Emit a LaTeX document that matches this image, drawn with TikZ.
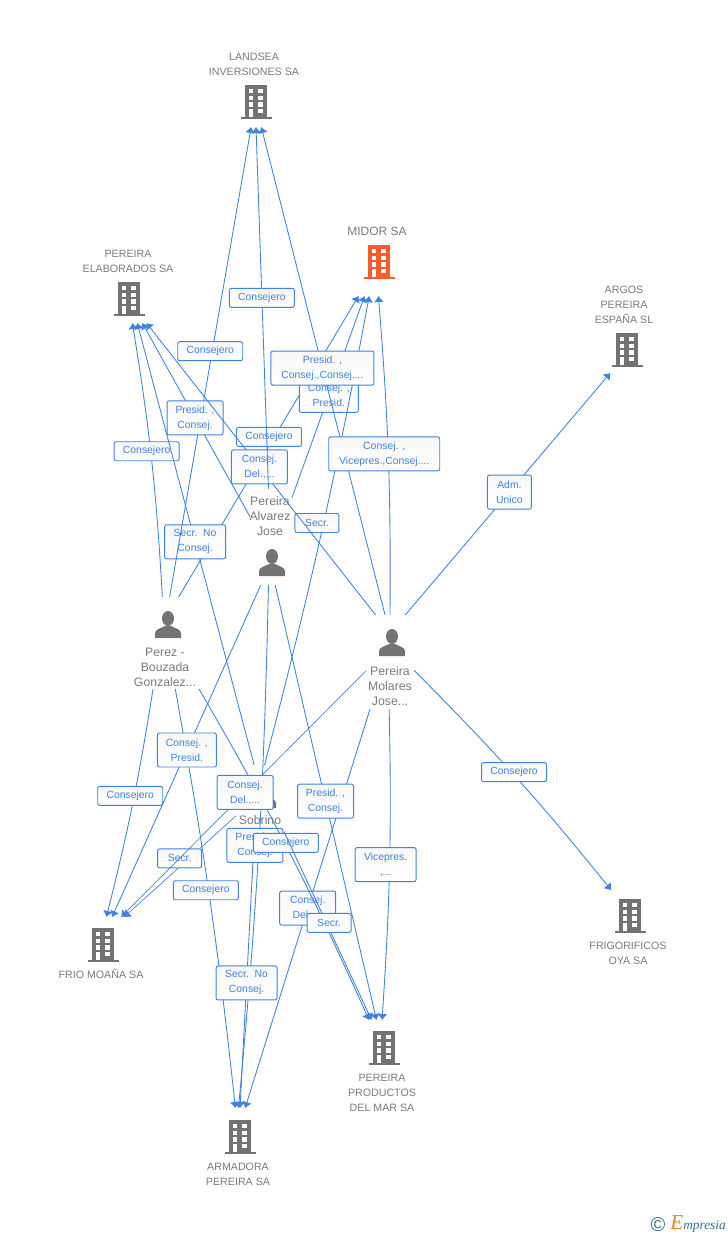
\documentclass[tikz,border=0pt]{standalone}
\usepackage{fontspec}
\setmainfont{Liberation Sans}
\newfontfamily\logofont{Liberation Serif}
\usetikzlibrary{arrows.meta}
\definecolor{linkblue}{HTML}{3F82E0}
\definecolor{towergray}{HTML}{737373}
\definecolor{textgray}{HTML}{7A7A7A}
\definecolor{midorred}{HTML}{FF5A2B}
\definecolor{logoblue}{HTML}{2F6F8F}
\definecolor{logoorange}{HTML}{F58220}
\tikzset{>={Latex[length=4.5pt,width=7.5pt]}}
\tikzset{
    link/.style={->,draw=linkblue,line width=0.65pt},
    lab/.style={draw=linkblue,line width=0.7pt,rounded corners=1.5pt,top color=black!3,bottom color=white,text=linkblue,inner sep=0pt,align=center,font=\fontsize{7.8}{11.25}\selectfont},
    labone/.style={lab,minimum width=#1,minimum height=14.25pt},
    labtwo/.style={lab,minimum width=#1,minimum height=25.5pt},
    firm/.style={inner sep=0pt,outer sep=0pt,minimum width=45pt,minimum height=#1},
    human/.style 2 args={inner sep=0pt,outer sep=0pt,minimum width=#1,minimum height=#2},
    firmtext/.style={text=textgray,align=center,inner sep=0pt,font=\fontsize{8}{11.25}\selectfont},
    humantext/.style={text=textgray,align=center,inner sep=0pt,font=\fontsize{9.2}{11.25}\selectfont},
    tower/.pic={
        \fill[pic actions] (-10.7,-17) rectangle (11,14.5);
        \fill[pic actions] (-15.5,14.5) rectangle (15.5,17);
        \foreach \ya/\yb in {-12.7/-8.7,-6/-2,0.3/4.7} {
            \fill[white] (-7,\ya) rectangle (-3,\yb);
            \fill[white] (2,\ya) rectangle (7,\yb);
        }
        \fill[white] (-7,7) rectangle (-3,14.5);
        \fill[white] (2,7) rectangle (7,11.3);
    },
    figure/.pic={
        \fill[towergray] (0,-6.5) ellipse (6 and 7.5);
        \fill[towergray] (-13,13) -- (-13,8) .. controls (-13,4) and (-6,3) .. (-3,1) -- (3,1) .. controls (6,3) and (13,4) .. (13,8) -- (13,13) -- cycle;
    }
}

\begin{document}
\begin{tikzpicture}[x=0.75pt,y=-0.75pt]
    \useasboundingbox (0,0) rectangle (728,1235);

    \node[firm=37.5pt] (landsea) at (256,102) {};
    \node[firm=51pt] (midor) at (379,262) {};
    \node[firm=36pt] (elaborados) at (129,299) {};
    \node[firm=34.5pt] (argos) at (627,350) {};
    \node[firm=42pt] (frio) at (103,945) {};
    \node[firm=39pt] (oya) at (630,916) {};
    \node[firm=42pt] (productos) at (384,1048) {};
    \node[firm=43.5pt] (armadora) at (240,1137) {};
    \pic[fill=towergray] at (landsea) {tower};
    \pic[fill=midorred] at (midor) {tower};
    \pic[fill=towergray] at (elaborados) {tower};
    \pic[fill=towergray] at (argos) {tower};
    \pic[fill=towergray] at (frio) {tower};
    \pic[fill=towergray] at (oya) {tower};
    \pic[fill=towergray] at (productos) {tower};
    \pic[fill=towergray] at (armadora) {tower};

    \node[firmtext] (landseatxt) at (254,64) {LANDSEA\\INVERSIONES SA};
    \node[firmtext,font=\fontsize{9}{11.25}\selectfont] (midortxt) at (377,231) {MIDOR SA};
    \node[firmtext] (elaboradostxt) at (128,261) {PEREIRA\\ELABORADOS SA};
    \node[firmtext] (argostxt) at (624,305) {ARGOS\\PEREIRA\\ESPAÑA SL};
    \node[firmtext] (friotxt) at (101,974) {FRIO MOAÑA SA};
    \node[firmtext] (oyatxt) at (628,953) {FRIGORIFICOS\\OYA SA};
    \node[firmtext] (productostxt) at (382,1093) {PEREIRA\\PRODUCTOS\\DEL MAR SA};
    \node[firmtext] (armadoratxt) at (238,1174) {ARMADORA\\PEREIRA SA};

    \node[human={46.5pt}{69pt}] (perez) at (168,643) {};
    \node[human={31.5pt}{72pt}] (alvarez) at (271,537) {};
    \node[human={36pt}{55.5pt}] (sobrino) at (260,802) {};
    \node[human={36pt}{70.5pt}] (molares) at (390,662) {};
    \pic at (168,625) {figure};
    \pic at (272,563) {figure};
    \pic at (263,795) {figure};
    \pic at (392,643) {figure};
    \node[humantext] (pereztxt) at (165,667) {Perez -\\Bouzada\\Gonzalez...};
    \node[humantext] (alvareztxt) at (270,516) {Pereira\\Alvarez\\Jose};
    \node[humantext] (sobrinotxt) at (260,820) {Sobrino};
    \node[humantext] (molarestxt) at (390,686) {Pereira\\Molares\\Jose...};

    \draw[link] (perez.97.4) to[bend right=3] node[labone=48.75pt,pos=.533,xshift=-3pt] (l1) {Consejero} (elaborados.-82.9);
    \draw[link] (perez.77.7) -- node[labone=48.75pt,pos=.532,xshift=-4pt] (l2) {Consejero} (midor.-121.7);
    \draw[link] (sobrino.99.2) -- node[labtwo=45.75pt,pos=.505] (l3) {Secr.\ \ No\\Consej.} (elaborados.-71.6);
    \draw[link] (perez.88.8) -- node[labone=48.75pt,pos=.523,xshift=-1.5pt] (l4) {Consejero} (landsea.-101.3);
    \draw[link] (alvarez.136.4) -- node[labtwo=42pt,pos=.51] (l5) {Presid. ,\\Consej.} (elaborados.-61.6);
    \draw[link] (alvarez.62.3) -- node[labtwo=44.25pt,pos=.507] (l6) {Consej. ,\\Presid.} (midor.-113.8);
    \draw[link] (sobrino.83.1) to[bend right=2] node[labone=33pt,pos=.52,xshift=-5pt] (l7) {Secr.} (midor.-106.4);
    \draw[link] (molares.107.7) -- node[labtwo=42pt,pos=.507] (l8) {Consej.\\Del.,...} (elaborados.-54.7);
    \draw[link] (alvarez.93.6) -- node[labone=48.75pt,pos=.528] (l9) {Consejero} (landsea.-90);
    \draw[link] (molares.96.1) -- node[labtwo=77.25pt,pos=.506] (l10) {Presid. ,\\Consej.,Consej....} (landsea.-78.7);
    \draw[link] (molares.90) to[bend right=2.5] node[labtwo=83.25pt,pos=.505,xshift=-3pt] (l11) {Consej. ,\\Vicepres.,Consej....} (midor.-91.7);
    \draw[link] (molares.72.3) -- node[labtwo=33pt,pos=.508] (l12) {Adm.\\Unico} (argos.-126.5);

    \draw[link] (perez.-108) to[bend left=2.5] node[labone=48.75pt,pos=.463,xshift=-3pt] (l13) {Consejero} (frio.83.9);
    \draw[link] (perez.-81.3) to[bend left=2] node[labone=48.75pt,pos=.48,xshift=-2pt] (l14) {Consejero} (armadora.99.8);
    \draw[link] (alvarez.-102.9) -- node[labtwo=44.25pt,pos=.497] (l15) {Consej. ,\\Presid.} (frio.72.2);
    \draw[link,line width=0.5pt] (sobrino.-150.5) -- node[labone=33pt,pos=.42,xshift=-7pt] (l16) {Secr.} (frio.53.1);
    \draw[link] (alvarez.-93.6) to[bend left=2] (armadora.93.9);
    \draw[link] (sobrino.-99.2) -- node[labtwo=45.75pt,pos=.535] (l17) {Secr.\ \ No\\Consej.} (armadora.90);
    \path (alvarez.-93.6) to[bend left=2] node[labtwo=42pt,pos=.497,xshift=-3pt] (l18) {Presid. ,\\Consej.} (armadora.93.9);
    \draw[link] (molares.-113) -- node[labtwo=42pt,pos=.499] (l19) {Consej.\\Del.,...} (armadora.80.2);
    \draw[link] (perez.-56.9) to[bend left=3] node[labone=48.75pt,pos=.47,xshift=1pt] (l20) {Consejero} (productos.118.2);
    \draw[link] (sobrino.-51.8) -- node[labone=33pt,pos=.484,xshift=2pt] (l21) {Secr.} (productos.114.9);
    \draw[link,line width=0.5pt] (molares.-160.8) -- node[labtwo=42pt,pos=.494] (l22) {Consej.\\Del.,...} (frio.57.3);
    \draw[link] (alvarez.-85.2) -- node[labtwo=42pt,pos=.497] (l23) {Presid. ,\\Consej.} (productos.105.9);
    \draw[link] (molares.-91.2) to[bend left=2.5] node[labtwo=45.75pt,pos=.5,xshift=-3pt] (l24) {Vicepres.\\,...} (productos.94.1);
    \draw[link] (molares.-19.2) to[bend left=3] node[labone=48.75pt,pos=.475,xshift=2pt] (l25) {Consejero} (oya.126.2);

    \node[text=logoblue,inner sep=0pt,font=\fontsize{15}{15}\selectfont] (copyr) at (658,1224.5) {©};
    \node[anchor=base west,inner sep=0pt,text=logoblue,font=\logofont\itshape\fontsize{10}{12}\selectfont] (logo) at (670,1229) {\textcolor{logoorange}{\fontsize{16}{16}\selectfont E}mpresia};
\end{tikzpicture}
\end{document}
